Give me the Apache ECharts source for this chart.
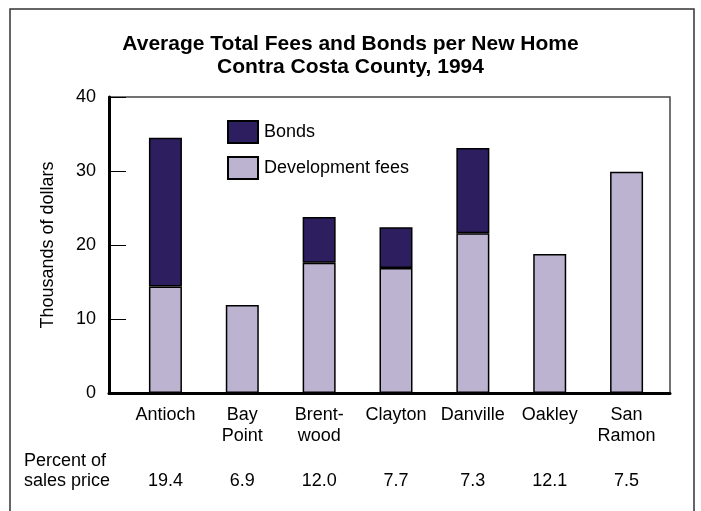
<html>
<head>
<meta charset="UTF-8">
<title>Average Total Fees and Bonds per New Home</title>
<script src="https://cdn.jsdelivr.net/npm/echarts@6/dist/echarts.min.js"></script>
<style>
  html, body { margin: 0; padding: 0; background: #fff; }
  #main { width: 701px; height: 511px; }
</style>
</head>
<body>
<div id="main"></div>
<script type="text/javascript">
// data (thousands of dollars)
var cities = ['Antioch', 'Bay\nPoint', 'Brent-\nwood', 'Clayton', 'Danville', 'Oakley', 'San\nRamon'];
var devFees = [14.4, 11.9, 17.6, 16.9, 21.6, 18.8, 29.9];
var bonds = [20.1, null, 6.2, 5.5, 11.5, null, null];
var pctOfPrice = ['19.4', '6.9', '12.0', '7.7', '7.3', '12.1', '7.5'];
var yTicks = [0, 10, 20, 30, 40];

var FONT = '"Liberation Sans", Arial, Helvetica, sans-serif';
var DARK = '#2d1e60';
var LIGHT = '#bbb3cf';

var chart = echarts.init(document.getElementById('main'), null, { renderer: 'canvas' });

var option = {
    backgroundColor: '#fff',
    animation: false,
    textStyle: { fontFamily: FONT, color: '#000' },
    title: {
        text: 'Average Total Fees and Bonds per New Home\nContra Costa County, 1994',
        left: 'center',
        top: 33,
        padding: 0,
        textStyle: { fontFamily: FONT, fontSize: 21, fontWeight: 'bold', lineHeight: 23, color: '#000' }
    },
    legend: {
        orient: 'vertical',
        left: 227,
        top: 120,
        padding: 0,
        icon: 'rect',
        itemWidth: 30,
        itemHeight: 22,
        itemGap: 12,
        data: ['Bonds', 'Development fees'],
        textStyle: { fontFamily: FONT, fontSize: 18, color: '#000', padding: [0, 0, 0, 1] }
    },
    grid: [
        // frame grid: thin border top/right, thick axes left/bottom
        { left: 109, right: 31, top: 97, bottom: 118, show: true, borderColor: '#444', borderWidth: 1.5, backgroundColor: 'transparent' },
        // bar grid
        { left: 127, right: 36, top: 97, bottom: 118 }
    ],
    xAxis: [
        {
            gridIndex: 0, type: 'value', min: 0, max: 1,
            axisLine: { show: true, lineStyle: { color: '#000', width: 3 } },
            axisTick: { show: false }, axisLabel: { show: false }, splitLine: { show: false }
        },
        {
            gridIndex: 1, type: 'category', data: cities,
            axisLine: { show: false }, axisTick: { show: false },
            axisLabel: { margin: 12, fontFamily: FONT, fontSize: 18, lineHeight: 21, color: '#000', verticalAlign: 'top', interval: 0 }
        },
        {
            gridIndex: 1, type: 'category', data: pctOfPrice, position: 'bottom', offset: 0,
            axisLine: { show: false }, axisTick: { show: false },
            axisLabel: { margin: 78, fontFamily: FONT, fontSize: 18, lineHeight: 21, color: '#000', verticalAlign: 'top', interval: 0 }
        }
    ],
    yAxis: [
        {
            gridIndex: 0, type: 'value', min: 0, max: 40, interval: 10,
            name: 'Thousands of dollars',
            nameLocation: 'middle',
            nameGap: 52,
            nameTextStyle: { fontFamily: FONT, fontSize: 18, color: '#000' },
            axisLine: { show: true, lineStyle: { color: '#000', width: 3 } },
            axisTick: { show: true, inside: true, length: 17, lineStyle: { color: '#000', width: 1 } },
            axisLabel: {
                margin: 13, fontFamily: FONT, fontSize: 18, color: '#000',
                formatter: function (v) { return yTicks.indexOf(v) >= 0 ? String(v) : ''; }
            },
            splitLine: { show: false }
        },
        {
            gridIndex: 1, type: 'value', min: 0, max: 40, interval: 10, show: false
        }
    ],
    series: [
        {
            name: 'Development fees',
            type: 'bar',
            stack: 'total',
            xAxisIndex: 1,
            yAxisIndex: 1,
            barWidth: 33,
            data: devFees,
            itemStyle: { color: LIGHT, borderColor: '#000', borderWidth: 1.5 }
        },
        {
            name: 'Bonds',
            type: 'bar',
            stack: 'total',
            xAxisIndex: 1,
            yAxisIndex: 1,
            barWidth: 33,
            data: bonds,
            itemStyle: { color: DARK, borderColor: '#000', borderWidth: 1.5 }
        }
    ],
    graphic: [
        {
            type: 'rect',
            shape: { x: 10, y: 9, width: 684, height: 530 },
            style: { fill: 'none', stroke: '#333', lineWidth: 1.5 },
            silent: true
        },
        {
            type: 'text',
            left: 24,
            top: 451,
            style: { text: 'Percent of\nsales price', font: '18px ' + FONT, fill: '#000', lineHeight: 20 },
            silent: true
        }
    ]
};

chart.setOption(option);
</script>
</body>
</html>
